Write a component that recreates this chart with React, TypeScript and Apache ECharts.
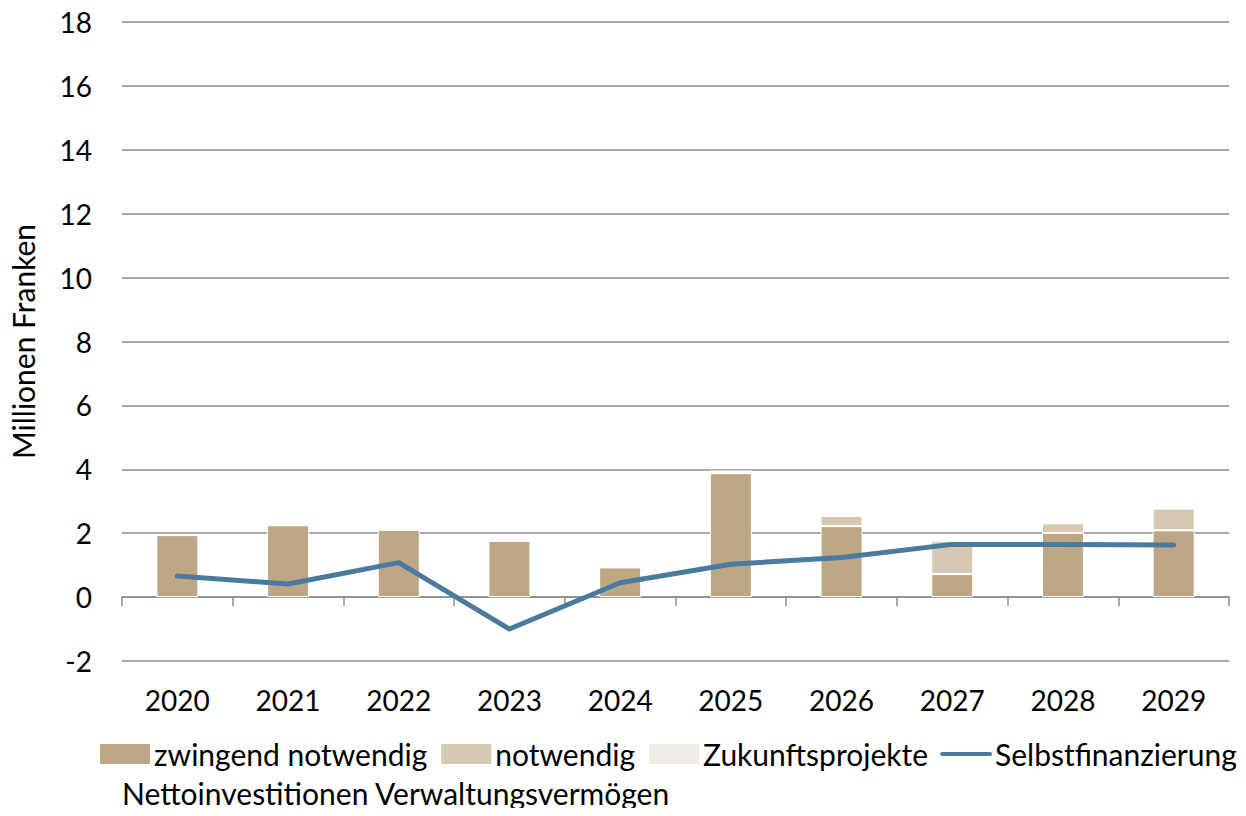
import React, { useEffect, useRef } from "react";
import * as echarts from "echarts";

const years = ["2020", "2021", "2022", "2023", "2024", "2025", "2026", "2027", "2028", "2029"];
const zwingend = [1.94, 2.25, 2.11, 1.76, 0.93, 3.88, 2.22, 0.72, 2.01, 2.09];
const notwendig = [0, 0, 0, 0, 0, 0.06, 0.32, 1.04, 0.3, 0.68];
const zukunft = [0, 0, 0, 0, 0, 0, 0, 0.02, 0, 0];
const selbst = [0.66, 0.41, 1.08, -1.0, 0.45, 1.03, 1.24, 1.65, 1.65, 1.63];

const FONT = "Lato";
const LINE_ICON = "path://M0,0L0.01,0M2,9L50,9A2,2,0,0,1,50,13L2,13A2,2,0,0,1,2,9ZM0,22L0.01,22";

export default function App() {
  const ref = useRef<HTMLDivElement>(null);
  useEffect(() => {
    const chart = echarts.init(ref.current!, null, { renderer: "svg" });
    const barStyle = (c: string) => ({ color: c, borderColor: "#ffffff", borderWidth: 1 });
    chart.setOption({
      animation: false,
      textStyle: { fontFamily: FONT, color: "#000" },
      grid: { left: 112, right: 17, top: 22, bottom: 155 },
      legend: {
        left: 98,
        top: 739,
        padding: 0,
        itemWidth: 52,
        itemHeight: 22,
        itemGap: 12,
        textStyle: { fontSize: 30, fontFamily: FONT, color: "#000", padding: [0, 0, 0, -2] },
        data: [
          { name: "zwingend notwendig", icon: "rect" },
          { name: "notwendig", icon: "rect" },
          { name: "Zukunftsprojekte", icon: "rect" },
          { name: "Selbstfinanzierung", icon: LINE_ICON, itemStyle: { color: "#4A7A9E" } },
        ],
      },
      graphic: [
        {
          type: "text",
          left: 122,
          top: 778,
          style: { text: "Nettoinvestitionen Verwaltungsvermögen", fontSize: 30, fontFamily: FONT, fill: "#000" },
        },
      ],
      xAxis: {
        type: "category",
        data: years,
        axisLine: { onZero: true, lineStyle: { color: "#8c8c8c", width: 1.5 } },
        axisTick: { show: true, length: 9, lineStyle: { color: "#8c8c8c", width: 1.5 } },
        axisLabel: { fontSize: 28, color: "#000", margin: 25, fontFamily: FONT },
      },
      yAxis: {
        type: "value",
        min: -2,
        max: 18,
        interval: 2,
        name: "Millionen Franken",
        nameLocation: "middle",
        nameGap: 84,
        nameTextStyle: { fontSize: 30, color: "#000", fontFamily: FONT },
        axisLine: { show: false },
        axisTick: { show: false },
        axisLabel: { fontSize: 28, color: "#000", margin: 30, fontFamily: FONT },
        splitLine: { lineStyle: { color: "#8c8c8c", width: 1.5 } },
      },
      series: [
        { name: "zwingend notwendig", type: "bar", stack: "a", barWidth: 42, data: zwingend, itemStyle: barStyle("#BDA785") },
        { name: "notwendig", type: "bar", stack: "a", barWidth: 42, data: notwendig, itemStyle: barStyle("#D7C9B1") },
        { name: "Zukunftsprojekte", type: "bar", stack: "a", barWidth: 42, data: zukunft, itemStyle: barStyle("#F0EBE3") },
        {
          name: "Selbstfinanzierung",
          type: "line",
          data: selbst,
          symbol: "none",
          itemStyle: { color: "#4A7A9E" },
          lineStyle: { color: "#4A7A9E", width: 5, cap: "round", join: "round" },
        },
      ],
    });
    return () => chart.dispose();
  }, []);
  return <div ref={ref} style={{ width: 1246, height: 816, margin: -8 }} />;
}
